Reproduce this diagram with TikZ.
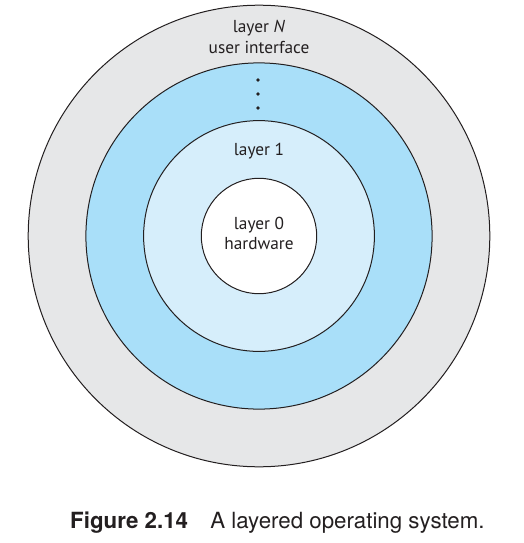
\documentclass[tikz,border=0pt]{standalone}
\usepackage{fontspec}
\setmainfont{PT Sans}
\newfontfamily\capfont{TeX Gyre Heros}
\definecolor{ink}{HTML}{231F20}
\definecolor{outerbg}{HTML}{E6E7E8}
\definecolor{midbg}{HTML}{A9DFF9}
\definecolor{innerbg}{HTML}{D6EEFB}
\definecolor{corebg}{HTML}{FFFFFF}
\tikzset{
  ring/.style={draw=ink, line width=1pt},
  lab/.style={text=ink, anchor=base, inner sep=0pt, font=\fontsize{17.3}{20}\selectfont},
  dot/.style={fill=ink},
  caption/.style={text=ink, anchor=base west, inner sep=0pt, font=\capfont\fontsize{22.3}{26}\selectfont}
}
\begin{document}
\begin{tikzpicture}[x=1pt,y=1pt]
  \useasboundingbox (0,0) rectangle (524,-543);

  % four nested layers, equal steps
  \def\r{57.7}
  \coordinate (C) at (259,-236);

  \draw[ring, fill=outerbg] (C) circle (4*\r);
  \draw[ring, fill=midbg] (C) circle (3*\r);
  \draw[ring, fill=innerbg] (C) circle (2*\r);
  \draw[ring, fill=corebg] (C) circle (\r);

  % labels
  \node[lab] (layerN) at (259,-32.5) {layer \textit{N}};
  \node[lab] (ui) at (259,-53.5) {user interface};
  \node[lab] (layer1) at (259,-155.5) {layer 1};
  \node[lab] (layer0) at (259,-229) {layer 0};
  \node[lab] (hw) at (259,-249) {hardware};

  % dots between layer N and layer 1
  \foreach \y in {80,94,108}
    \fill[dot] (258,-\y) circle (1.8);

  % caption
  \node[caption] (fig) at (70,-528) {\textbf{Figure 2.14}\quad A layered operating system.};
\end{tikzpicture}
\end{document}
